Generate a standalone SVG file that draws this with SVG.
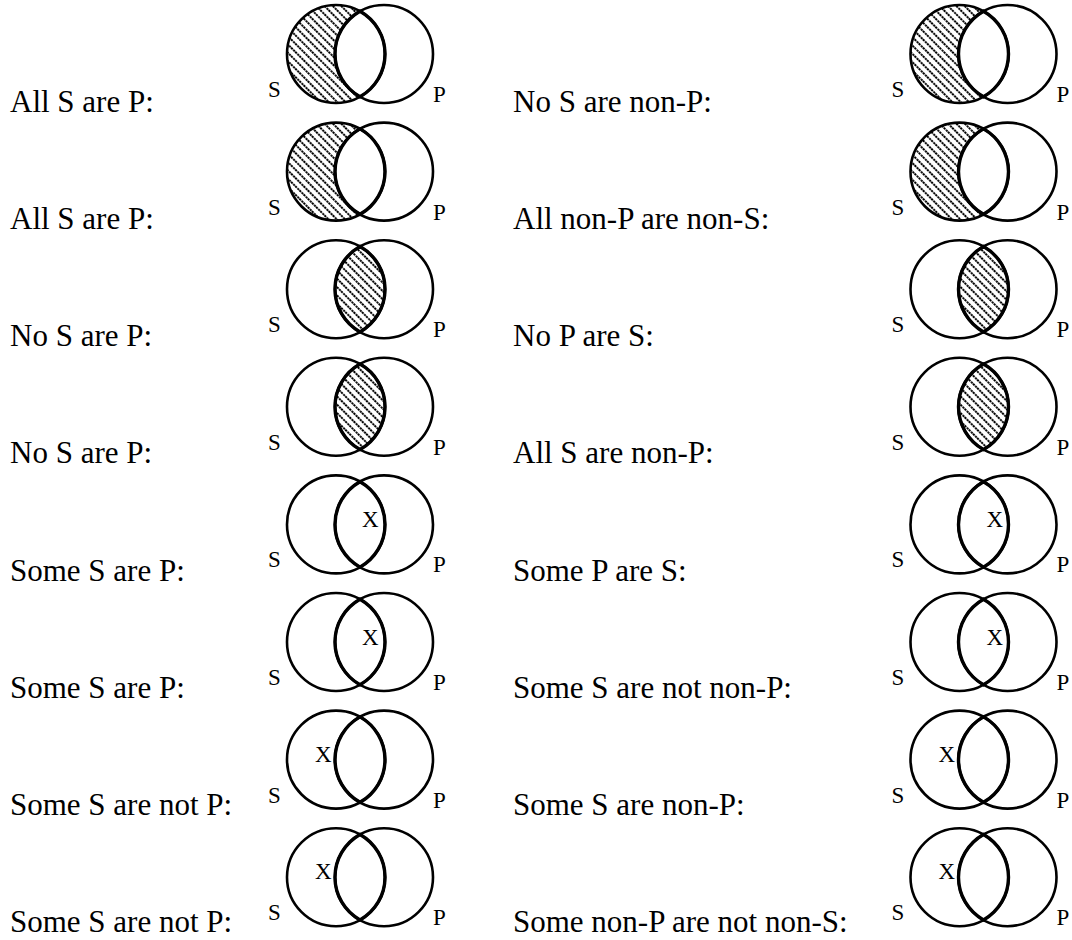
<svg xmlns="http://www.w3.org/2000/svg" xmlns:xlink="http://www.w3.org/1999/xlink" width="1072" height="940" viewBox="0 0 1072 940">
<style>
.lbl{font-family:"Liberation Serif","Times New Roman",serif;font-size:31px;fill:#000}
.c{fill:none;stroke:#000;stroke-width:2.6}
.ln{fill:none;stroke:#000;stroke-width:3.4}
.h{fill:url(#hatch);stroke:none}
</style>
<defs>
<pattern id="hatch" patternUnits="userSpaceOnUse" width="5.9" height="5.9" patternTransform="rotate(45)">
<rect width="5.9" height="5.9" fill="#fff"/>
<line x1="0" y1="2.95" x2="5.9" y2="2.95" stroke="#000" stroke-width="2" stroke-dasharray="2.2 0.9"/>
</pattern>
<path id="cres" d="M0,-42.72 A49,49 0 1 0 0,42.72 A49,49 0 0 1 0,-42.72 Z"/>
<path id="lens" d="M0,-42.72 A49,49 0 0 1 0,42.72 A49,49 0 0 1 0,-42.72 Z"/>
<g id="base">
<circle class="c" cx="-24" cy="0" r="49"/>
<circle class="c" cx="24" cy="0" r="49"/>
<use xlink:href="#lens" class="ln"/>
<text x="-92" y="43" font-family="Liberation Serif, Times New Roman, serif" font-size="23">S</text>
<text x="73" y="48" font-family="Liberation Serif, Times New Roman, serif" font-size="23">P</text>
</g>
<text id="X" x="0" y="0" font-family="Liberation Serif, Times New Roman, serif" font-size="23">X</text>
</defs>
<g id="labels-left" class="lbl">
<text x="10" y="112">All S are P:</text>
<text x="10" y="229">All S are P:</text>
<text x="10" y="346">No S are P:</text>
<text x="10" y="463">No S are P:</text>
<text x="10" y="581">Some S are P:</text>
<text x="10" y="698">Some S are P:</text>
<text x="10" y="815">Some S are not P:</text>
<text x="10" y="932">Some S are not P:</text>
</g>
<g id="labels-right" class="lbl">
<text x="513" y="112">No S are non-P:</text>
<text x="513" y="229">All non-P are non-S:</text>
<text x="513" y="346">No P are S:</text>
<text x="513" y="463">All S are non-P:</text>
<text x="513" y="581">Some P are S:</text>
<text x="513" y="698">Some S are not non-P:</text>
<text x="513" y="815">Some S are non-P:</text>
<text x="513" y="932">Some non-P are not non-S:</text>
</g>
<g id="L1" transform="translate(360,54)"><use xlink:href="#cres" class="h"/><use xlink:href="#base"/></g>
<g id="L2" transform="translate(360,171.6)"><use xlink:href="#cres" class="h"/><use xlink:href="#base"/></g>
<g id="L3" transform="translate(360,289.2)"><use xlink:href="#lens" class="h"/><use xlink:href="#base"/></g>
<g id="L4" transform="translate(360,406.8)"><use xlink:href="#lens" class="h"/><use xlink:href="#base"/></g>
<g id="L5" transform="translate(360,524.4)"><use xlink:href="#base"/><use xlink:href="#X" x="2" y="3"/></g>
<g id="L6" transform="translate(360,642)"><use xlink:href="#base"/><use xlink:href="#X" x="2" y="3"/></g>
<g id="L7" transform="translate(360,759.6)"><use xlink:href="#base"/><use xlink:href="#X" x="-45" y="2"/></g>
<g id="L8" transform="translate(360,877.2)"><use xlink:href="#base"/><use xlink:href="#X" x="-45" y="2"/></g>
<g id="R1" transform="translate(983.5,54)"><use xlink:href="#cres" class="h"/><use xlink:href="#base"/></g>
<g id="R2" transform="translate(983.5,171.6)"><use xlink:href="#cres" class="h"/><use xlink:href="#base"/></g>
<g id="R3" transform="translate(983.5,289.2)"><use xlink:href="#lens" class="h"/><use xlink:href="#base"/></g>
<g id="R4" transform="translate(983.5,406.8)"><use xlink:href="#lens" class="h"/><use xlink:href="#base"/></g>
<g id="R5" transform="translate(983.5,524.4)"><use xlink:href="#base"/><use xlink:href="#X" x="3" y="3"/></g>
<g id="R6" transform="translate(983.5,642)"><use xlink:href="#base"/><use xlink:href="#X" x="3" y="3"/></g>
<g id="R7" transform="translate(983.5,759.6)"><use xlink:href="#base"/><use xlink:href="#X" x="-45" y="2"/></g>
<g id="R8" transform="translate(983.5,877.2)"><use xlink:href="#base"/><use xlink:href="#X" x="-45" y="2"/></g>
</svg>
